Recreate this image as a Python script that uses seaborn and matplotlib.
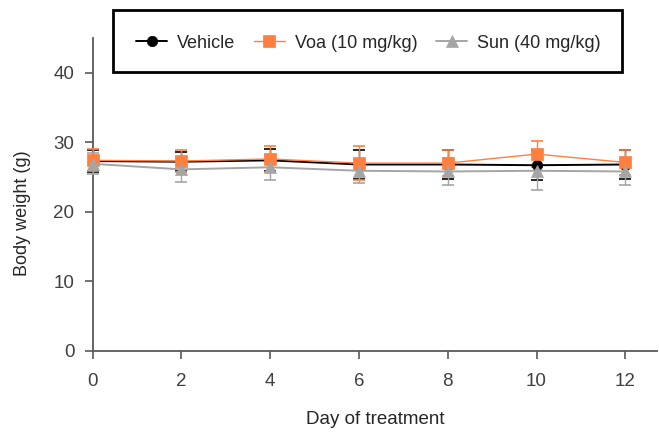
# 体重变化折线图
import matplotlib
matplotlib.use('Agg')
import matplotlib.pyplot as plt
import seaborn as sns
from matplotlib.patches import Rectangle

# data
days = [0, 2, 4, 6, 8, 10, 12]
vehicle_mean = [27.3, 27.2, 27.4, 26.8, 26.8, 26.7, 26.8]
vehicle_sd = [1.6, 1.4, 1.6, 2.1, 2.1, 2.2, 2.1]
voa_mean = [27.4, 27.3, 27.6, 27.0, 27.0, 28.3, 27.1]
voa_sd = [1.6, 1.6, 1.9, 2.4, 1.9, 1.9, 1.8]
sun_mean = [26.9, 26.1, 26.4, 25.9, 25.8, 25.9, 25.8]
sun_sd = [1.5, 1.8, 1.8, 1.7, 2.0, 2.8, 2.0]
labels = ['Vehicle', 'Voa (10 mg/kg)', 'Sun (40 mg/kg)']

sns.set_style('white')
plt.rcParams['font.family'] = ['Liberation Sans', 'DejaVu Sans']
plt.rcParams['font.size'] = 13

fig = plt.figure(figsize=(6.59, 4.32), dpi=100)
ax = fig.add_axes([0.1404, 0.188, 0.857, 0.724])

series = [
    (vehicle_mean, vehicle_sd, 'black', 'o', 7.5, 1.4, labels[0]),
    (voa_mean, voa_sd, '#FF7F3F', 's', 8.5, 1.0, labels[1]),
    (sun_mean, sun_sd, '#A5A5A5', '^', 8.5, 1.4, labels[2]),
]

handles = []
for i, (m, sd, c, mk, ms, lw, lab) in enumerate(series):
    eb = ax.errorbar(days, m, yerr=sd, fmt='none', ecolor=c, elinewidth=1.0,
                     capsize=4, capthick=1.2, zorder=2 + i)
    for art in eb.lines[1] + eb.lines[2]:
        art.set_clip_on(False)
    sns.lineplot(x=days, y=m, color=c, marker=mk, markersize=ms, linewidth=lw,
                 markeredgecolor=c, markeredgewidth=0.5, ax=ax, zorder=5 + i,
                 clip_on=False)
    handles.append(ax.lines[-1])

if ax.get_legend() is not None:
    ax.get_legend().remove()

ax.set_xlim(0, 12.72)
ax.set_ylim(0, 45)
ax.set_xticks(days)
ax.set_yticks([0, 10, 20, 30, 40])
for s in ['top', 'right']:
    ax.spines[s].set_visible(False)
for s in ['left', 'bottom']:
    ax.spines[s].set_color('#595959')
    ax.spines[s].set_linewidth(1.3)
ax.tick_params(axis='both', bottom=True, left=True, colors='#595959',
               labelcolor='#404040', length=6, width=1.2, direction='out',
               labelsize=13.5)
ax.tick_params(axis='x', pad=10)
ax.tick_params(axis='y', pad=7)
ax.set_xlabel('Day of treatment', fontsize=13.5, color='#262626', labelpad=15)
ax.set_ylabel('Body weight (g)', fontsize=13, color='#262626')
ax.yaxis.set_label_coords(-0.109, 0.44)

# 图例框
fig.patches.append(Rectangle((0.1715, 0.834), 0.772, 0.143, transform=fig.transFigure,
                             fill=False, edgecolor='black', linewidth=2))
fig.legend(handles, labels, loc='center', bbox_to_anchor=(0.559, 0.900), ncol=3,
           frameon=False, handlelength=1.7, handletextpad=0.55, columnspacing=1.05,
           fontsize=13)

fig.savefig('out.png', dpi=100)
